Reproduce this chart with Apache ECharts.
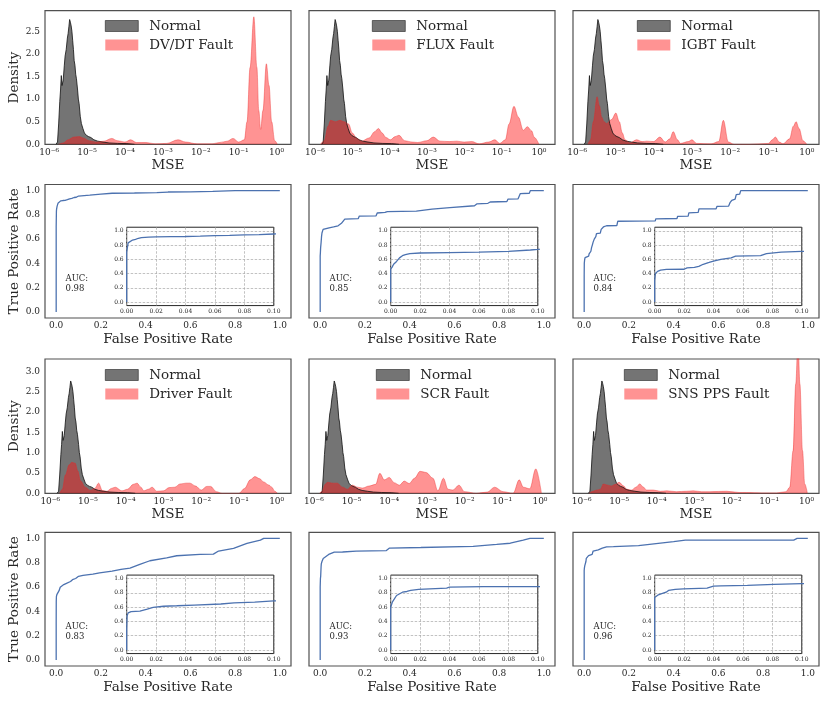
<!DOCTYPE html>
<html>
<head>
<meta charset="utf-8">
<script src="https://cdn.jsdelivr.net/npm/echarts@6/dist/echarts.min.js"></script>
<style>
  html, body { margin: 0; padding: 0; background: #fff; }
  #main { width: 830px; height: 706px; }
</style>
</head>
<body>
<div id="main"></div>
<script>
// ---- data ----
const faultNames = ['DV/DT Fault', 'FLUX Fault', 'IGBT Fault', 'Driver Fault', 'SCR Fault', 'SNS PPS Fault']
const aucValues = [0.98, 0.85, 0.84, 0.83, 0.93, 0.96]

const logMseTicks = [-6, -5, -4, -3, -2, -1, 0]
const densityTicksTop = [0, 0.5, 1, 1.5, 2, 2.5]
const densityTicksBottom = [0, 0.5, 1, 1.5, 2, 2.5, 3]
const rateTicks = [0, 0.2, 0.4, 0.6, 0.8, 1]
const insetFprTicks = [0, 0.02, 0.04, 0.06, 0.08, 0.1]

// [log10(MSE), density]
const normalDensity = [
  [-5.82, 0], [-5.78, 0.05], [-5.75, 0.45], [-5.72, 0.95], [-5.7, 1.2], [-5.68, 1.52], [-5.66, 1.3],
  [-5.63, 1.42], [-5.6, 1.75], [-5.58, 1.95], [-5.55, 2.1], [-5.52, 2.35], [-5.5, 2.45], [-5.48, 2.6],
  [-5.46, 2.76], [-5.44, 2.7], [-5.42, 2.62], [-5.4, 2.5], [-5.38, 2.3], [-5.36, 2.1], [-5.34, 1.85],
  [-5.32, 1.75], [-5.3, 1.55], [-5.28, 1.45], [-5.25, 1.2], [-5.23, 1.0], [-5.21, 0.9], [-5.18, 0.62],
  [-5.15, 0.46], [-5.11, 0.35], [-5.07, 0.25], [-5.02, 0.2], [-4.96, 0.17], [-4.9, 0.15], [-4.82, 0.1],
  [-4.72, 0.07], [-4.58, 0.05], [-4.42, 0.03], [-4.2, 0.02], [-3.95, 0.015], [-3.75, 0]
]
const dvdtDensity = [
  [-5.75, 0], [-5.63, 0.03], [-5.5, 0.1], [-5.35, 0.16], [-5.2, 0.17], [-5.1, 0.14], [-4.95, 0.08],
  [-4.75, 0.05], [-4.55, 0.07], [-4.35, 0.13], [-4.2, 0.08], [-4.0, 0.05], [-3.85, 0.1], [-3.7, 0.04],
  [-3.45, 0.04], [-3.2, 0.01], [-2.9, 0.02], [-2.6, 0.1], [-2.4, 0.05], [-2.1, 0.01], [-1.7, 0.01],
  [-1.5, 0.04], [-1.3, 0.07], [-1.15, 0.13], [-1.0, 0.05], [-0.85, 0.1], [-0.78, 0.5], [-0.7, 1.7],
  [-0.6, 2.82], [-0.52, 1.7], [-0.47, 0.75], [-0.42, 0.33], [-0.36, 0.75], [-0.27, 1.78], [-0.2, 1.3],
  [-0.13, 0.5], [-0.05, 0.08], [0.02, 0]
]
const fluxDensity = [
  [-5.85, 0], [-5.75, 0.08], [-5.65, 0.4], [-5.58, 0.53], [-5.45, 0.5], [-5.33, 0.53], [-5.22, 0.5],
  [-5.1, 0.45], [-5.0, 0.25], [-4.88, 0.13], [-4.75, 0.07], [-4.55, 0.14], [-4.4, 0.28], [-4.3, 0.35],
  [-4.2, 0.25], [-4.1, 0.15], [-3.98, 0.1], [-3.85, 0.17], [-3.75, 0.2], [-3.6, 0.08], [-3.4, 0.05],
  [-3.25, 0.04], [-3.0, 0.08], [-2.83, 0.16], [-2.65, 0.07], [-2.4, 0.06], [-2.2, 0.07], [-2.0, 0.05],
  [-1.8, 0.06], [-1.6, 0.01], [-1.35, 0.05], [-1.18, 0.1], [-1.05, 0.02], [-0.9, 0.1], [-0.8, 0.45],
  [-0.67, 0.84], [-0.55, 0.6], [-0.42, 0.31], [-0.31, 0.39], [-0.2, 0.3], [-0.12, 0.15], [0.0, 0]
]
const igbtDensity = [
  [-5.72, 0], [-5.65, 0.1], [-5.58, 0.5], [-5.48, 1.05], [-5.42, 0.85], [-5.36, 0.6], [-5.3, 0.5],
  [-5.23, 0.46], [-5.1, 0.55], [-4.99, 0.69], [-4.9, 0.5], [-4.82, 0.25], [-4.75, 0.1], [-4.62, 0.03],
  [-4.45, 0.1], [-4.3, 0.06], [-4.18, 0.07], [-4.0, 0.06], [-3.84, 0.16], [-3.7, 0.05], [-3.58, 0.12],
  [-3.49, 0.28], [-3.38, 0.1], [-3.3, 0.02], [-3.1, 0.06], [-3.0, 0.1], [-2.88, 0.02], [-2.5, 0.01],
  [-2.3, 0.06], [-2.18, 0.53], [-2.05, 0.05], [-1.9, 0.0], [-1.5, 0.0], [-1.0, 0.02], [-0.9, 0.1],
  [-0.82, 0.16], [-0.72, 0.05], [-0.62, 0.01], [-0.45, 0.12], [-0.35, 0.4], [-0.28, 0.5], [-0.2, 0.35],
  [-0.1, 0.08], [0.0, 0]
]
const driverDensity = [
  [-5.75, 0], [-5.68, 0.1], [-5.6, 0.45], [-5.5, 0.7], [-5.43, 0.76], [-5.34, 0.74], [-5.27, 0.55],
  [-5.2, 0.31], [-5.07, 0.15], [-4.94, 0.07], [-4.82, 0.12], [-4.72, 0.25], [-4.62, 0.07], [-4.5, 0.05],
  [-4.38, 0.12], [-4.28, 0.15], [-4.1, 0.06], [-3.95, 0.1], [-3.8, 0.22], [-3.7, 0.25], [-3.6, 0.15],
  [-3.52, 0.06], [-3.4, 0.1], [-3.3, 0.15], [-3.18, 0.05], [-3.0, 0.06], [-2.85, 0.14], [-2.7, 0.15],
  [-2.56, 0.23], [-2.4, 0.25], [-2.3, 0.25], [-2.15, 0.18], [-2.0, 0.08], [-1.85, 0.17], [-1.75, 0.17],
  [-1.6, 0.04], [-1.45, 0.0], [-1.0, 0.0], [-0.85, 0.12], [-0.7, 0.33], [-0.58, 0.41], [-0.45, 0.36],
  [-0.35, 0.28], [-0.2, 0.2], [-0.13, 0.15], [-0.05, 0.05], [0.02, 0]
]
const scrDensity = [
  [-5.85, 0], [-5.78, 0.05], [-5.7, 0.22], [-5.64, 0.27], [-5.5, 0.25], [-5.38, 0.25], [-5.24, 0.15],
  [-5.11, 0.1], [-4.98, 0.2], [-4.84, 0.15], [-4.71, 0.13], [-4.53, 0.18], [-4.36, 0.22], [-4.25, 0.49],
  [-4.13, 0.33], [-4.0, 0.39], [-3.87, 0.26], [-3.73, 0.2], [-3.6, 0.3], [-3.47, 0.24], [-3.33, 0.37],
  [-3.18, 0.54], [-3.02, 0.51], [-2.84, 0.37], [-2.71, 0.06], [-2.56, 0.37], [-2.44, 0.1], [-2.31, 0.08],
  [-2.15, 0.2], [-2.0, 0.04], [-1.69, 0.0], [-1.4, 0.03], [-1.2, 0.15], [-0.98, 0.04], [-0.71, 0.0],
  [-0.55, 0.33], [-0.44, 0.15], [-0.27, 0.11], [-0.11, 0.6], [0.04, 0]
]
const snsDensity = [
  [-5.8, 0], [-5.7, 0.05], [-5.6, 0.08], [-5.5, 0.1], [-5.42, 0.23], [-5.3, 0.2], [-5.2, 0.18],
  [-5.1, 0.22], [-5.0, 0.27], [-4.88, 0.18], [-4.8, 0.1], [-4.67, 0.08], [-4.55, 0.15], [-4.45, 0.23],
  [-4.35, 0.15], [-4.27, 0.08], [-4.09, 0.08], [-3.9, 0.05], [-3.73, 0.06], [-3.47, 0.04], [-3.2, 0.05],
  [-3.02, 0.06], [-2.8, 0.04], [-2.58, 0.04], [-2.13, 0.05], [-1.8, 0.02], [-1.6, 0.02], [-1.2, 0.01],
  [-0.8, 0.01], [-0.55, 0.04], [-0.45, 0.15], [-0.36, 1.05], [-0.29, 2.69], [-0.23, 3.8], [-0.18, 2.69],
  [-0.11, 1.05], [-0.05, 0.23], [0.02, 0]
]

// [false positive rate, true positive rate]
const dvdtRoc = [
  [0, 0], [0, 0.7], [0.001, 0.83], [0.002, 0.85], [0.004, 0.87], [0.006, 0.88], [0.008, 0.895],
  [0.01, 0.905], [0.015, 0.91], [0.02, 0.915], [0.03, 0.918], [0.04, 0.92], [0.05, 0.925], [0.06, 0.932],
  [0.07, 0.935], [0.08, 0.943], [0.09, 0.945], [0.1, 0.955], [0.15, 0.962], [0.2, 0.97], [0.25, 0.978],
  [0.35, 0.98], [0.45, 0.983], [0.5, 0.988], [0.6, 0.99], [0.7, 0.993], [0.8, 1.0], [1.0, 1.0]
]
const fluxRoc = [
  [0, 0], [0, 0.3], [0, 0.46], [0.001, 0.49], [0.002, 0.53], [0.004, 0.57], [0.006, 0.62], [0.008, 0.65],
  [0.01, 0.665], [0.013, 0.68], [0.02, 0.688], [0.04, 0.693], [0.06, 0.7], [0.08, 0.71], [0.095, 0.73],
  [0.1, 0.74], [0.11, 0.765], [0.17, 0.768], [0.175, 0.79], [0.25, 0.792], [0.255, 0.815], [0.29, 0.82],
  [0.3, 0.827], [0.43, 0.83], [0.435, 0.843], [0.5, 0.847], [0.505, 0.857], [0.58, 0.86], [0.585, 0.87],
  [0.69, 0.875], [0.7, 0.89], [0.75, 0.895], [0.76, 0.906], [0.835, 0.91], [0.84, 0.93], [0.885, 0.932],
  [0.895, 0.975], [0.935, 0.978], [0.94, 1.0], [1, 1]
]
const igbtRoc = [
  [0, 0], [0, 0.3], [0.0005, 0.4], [0.002, 0.43], [0.004, 0.448], [0.008, 0.457], [0.02, 0.46],
  [0.022, 0.478], [0.027, 0.485], [0.03, 0.5], [0.033, 0.53], [0.037, 0.555], [0.04, 0.575], [0.045, 0.6],
  [0.052, 0.62], [0.055, 0.645], [0.072, 0.65], [0.076, 0.68], [0.086, 0.7], [0.1, 0.71], [0.146, 0.712],
  [0.15, 0.747], [0.318, 0.75], [0.32, 0.767], [0.415, 0.77], [0.418, 0.788], [0.465, 0.79], [0.468, 0.816],
  [0.51, 0.82], [0.513, 0.849], [0.59, 0.85], [0.594, 0.87], [0.646, 0.872], [0.652, 0.9], [0.66, 0.92],
  [0.675, 0.93], [0.68, 0.966], [0.695, 0.97], [0.7, 1.0], [1, 1]
]
const driverRoc = [
  [0, 0], [0, 0.29], [0.0003, 0.48], [0.001, 0.52], [0.003, 0.537], [0.009, 0.546], [0.014, 0.574],
  [0.018, 0.598], [0.025, 0.613], [0.034, 0.62], [0.046, 0.63], [0.064, 0.645], [0.073, 0.66],
  [0.087, 0.67], [0.1, 0.688], [0.12, 0.695], [0.164, 0.706], [0.194, 0.717], [0.25, 0.73], [0.29, 0.745],
  [0.33, 0.755], [0.374, 0.786], [0.419, 0.816], [0.494, 0.84], [0.539, 0.857], [0.643, 0.868],
  [0.703, 0.87], [0.726, 0.896], [0.793, 0.918], [0.853, 0.959], [0.913, 0.986], [0.928, 1.0], [1, 1]
]
const scrRoc = [
  [0, 0], [0, 0.45], [0, 0.6], [0.0011, 0.67], [0.0023, 0.69], [0.004, 0.764], [0.005, 0.79], [0.008, 0.81],
  [0.011, 0.82], [0.0136, 0.835], [0.019, 0.85], [0.038, 0.868], [0.04, 0.88], [0.063, 0.887], [0.1, 0.888],
  [0.161, 0.895], [0.296, 0.9], [0.31, 0.92], [0.45, 0.925], [0.684, 0.935], [0.789, 0.95], [0.85, 0.96],
  [0.908, 0.986], [0.938, 1.0], [1, 1]
]
const snsRoc = [
  [0, 0], [0, 0.5], [0, 0.736], [0.0009, 0.755], [0.0025, 0.774], [0.0048, 0.79], [0.0078, 0.81],
  [0.0094, 0.835], [0.014, 0.849], [0.0196, 0.858], [0.0356, 0.868], [0.04, 0.896], [0.045, 0.9],
  [0.063, 0.906], [0.081, 0.92], [0.1, 0.93], [0.131, 0.932], [0.243, 0.94], [0.251, 0.953], [0.4, 0.973],
  [0.452, 0.986], [0.937, 0.986], [0.952, 1.0], [1, 1]
]

const faultDensities = [dvdtDensity, fluxDensity, igbtDensity, driverDensity, scrDensity, snsDensity]
const rocCurves = [dvdtRoc, fluxRoc, igbtRoc, driverRoc, scrRoc, snsRoc]

// ---- layout ----
const colLeft = [45, 309, 573]
const colWidth = 246
const rowTop = [10.7, 184.5, 359, 532.3]
const rowHeight = [133.6, 133.5, 134.3, 133.7]
const mseAxisMin = [-6.11, -6.16, -6.11, -6.14, -6.13, -6.23]
const mseAxisMax = [0.38, 0.43, 0.32, 0.38, 0.40, 0.33]
const legendLeft = [105, 372, 637, 105, 376, 624]

const serif = '"DejaVu Serif", "Liberation Serif", serif'
const ink = '#262626'
const frame = '#505050'
const rocBlue = '#4c72b0'
const normalFill = 'rgba(30,30,30,0.62)'
const faultFill = 'rgba(255,20,20,0.46)'

const supMap = { '-': '\u207B', '0': '\u2070', '1': '\u00B9', '2': '\u00B2', '3': '\u00B3', '4': '\u2074', '5': '\u2075', '6': '\u2076' }
function sup(n) {
  return String(n).split('').map(c => supMap[c]).join('')
}

const grids = []
const xAxes = []
const yAxes = []
const series = []
const legends = []
const graphics = []

function label(size, margin, fmt, show) {
  return { show: show !== false, fontFamily: serif, fontSize: size, color: ink, margin: margin, formatter: fmt }
}
function axisName(text, gap) {
  return { name: text, nameLocation: 'middle', nameGap: gap, nameTextStyle: { fontFamily: serif, fontSize: 13.5, color: ink } }
}

// density panels
faultNames.forEach((fault, i) => {
  const row = i < 3 ? 0 : 2
  const col = i % 3
  const gi = grids.length
  const yTicks = row === 0 ? densityTicksTop : densityTicksBottom
  grids.push({ left: colLeft[col], top: rowTop[row], width: colWidth, height: rowHeight[row],
    show: true, borderColor: frame, borderWidth: 1.2, backgroundColor: 'transparent' })
  xAxes.push(Object.assign({
    gridIndex: gi, type: 'value', min: mseAxisMin[i], max: mseAxisMax[i],
    axisLine: { show: false }, axisTick: { show: false, customValues: logMseTicks }, splitLine: { show: false },
    axisLabel: Object.assign(label(9, 4, v => '10' + sup(v)), { customValues: logMseTicks })
  }, axisName('MSE', 11)))
  yAxes.push(Object.assign({
    gridIndex: gi, type: 'value', min: 0, max: row === 0 ? 2.955 : 3.3,
    axisLine: { show: false }, axisTick: { show: false, customValues: yTicks }, splitLine: { show: false },
    axisLabel: Object.assign(label(9, 5, v => v.toFixed(1), col === 0), { customValues: yTicks })
  }, axisName(col === 0 ? 'Density' : '', 19.5)))
  series.push({
    type: 'line', name: 'Normal', xAxisIndex: gi, yAxisIndex: gi, data: normalDensity,
    symbol: 'none', silent: true,
    lineStyle: { color: '#111', width: 0.8 },
    itemStyle: { color: '#5a5a5a' },
    areaStyle: { color: normalFill, opacity: 1 }
  })
  series.push({
    type: 'line', name: fault, xAxisIndex: gi, yAxisIndex: gi, data: faultDensities[i],
    symbol: 'none', silent: true, smooth: 0.35, smoothMonotone: 'x',
    lineStyle: { color: 'rgba(235,40,40,0.5)', width: 0.8 },
    itemStyle: { color: '#ff8a8a' },
    areaStyle: { color: faultFill, opacity: 1 }
  })
  legends.push({
    orient: 'vertical', left: legendLeft[i], top: row === 0 ? 19 : 368, padding: 0,
    icon: 'rect', itemWidth: 33, itemHeight: 11, itemGap: 5, selectedMode: false,
    textStyle: { fontFamily: serif, fontSize: 13.5, color: ink, padding: [0, 0, 0, 6] },
    data: [
      { name: 'Normal', itemStyle: { color: normalFill, borderColor: '#222', borderWidth: 0.6 } },
      { name: fault, itemStyle: { color: faultFill, borderWidth: 0 } }
    ]
  })
})

// ROC panels with zoomed insets
rocCurves.forEach((roc, i) => {
  const row = i < 3 ? 1 : 3
  const col = i % 3
  const gi = grids.length
  grids.push({ left: colLeft[col], top: rowTop[row], width: colWidth, height: rowHeight[row],
    show: true, borderColor: frame, borderWidth: 1.2, backgroundColor: 'transparent' })
  xAxes.push(Object.assign({
    gridIndex: gi, type: 'value', min: -0.05, max: 1.05,
    axisLine: { show: false }, axisTick: { show: false, customValues: rateTicks }, splitLine: { show: false },
    axisLabel: Object.assign(label(9, 3.5, v => v.toFixed(1)), { customValues: rateTicks })
  }, axisName('False Positive Rate', 14)))
  yAxes.push(Object.assign({
    gridIndex: gi, type: 'value', min: -0.05, max: 1.05,
    axisLine: { show: false }, axisTick: { show: false, customValues: rateTicks }, splitLine: { show: false },
    axisLabel: Object.assign(label(9, 5, v => v.toFixed(1), col === 0), { customValues: rateTicks })
  }, axisName(col === 0 ? 'True Positive Rate' : '', 19.5)))
  series.push({
    type: 'line', name: 'ROC ' + faultNames[i], xAxisIndex: gi, yAxisIndex: gi, data: roc,
    symbol: 'none', silent: true, lineStyle: { color: rocBlue, width: 1.3 }
  })

  // inset: same curve, FPR 0..0.1
  const ii = grids.length
  grids.push({
    left: colLeft[col] + 0.332 * colWidth, top: rowTop[row] + 0.32 * rowHeight[row],
    width: 0.598 * colWidth, height: 0.587 * rowHeight[row],
    show: true, borderColor: '#262626', borderWidth: 1, backgroundColor: '#fff', z: 2
  })
  const dashed = { show: true, lineStyle: { type: [2.5, 1.5], color: '#a8a8a8', width: 0.7 } }
  xAxes.push({
    gridIndex: ii, type: 'value', min: 0, max: 0.1, z: 3,
    axisLine: { show: false }, axisTick: { show: false, customValues: insetFprTicks }, splitLine: dashed,
    axisLabel: Object.assign(label(6, 3, v => v.toFixed(2)), { customValues: insetFprTicks })
  })
  yAxes.push({
    gridIndex: ii, type: 'value', min: -0.05, max: 1.05, z: 3,
    axisLine: { show: false }, axisTick: { show: false, customValues: rateTicks }, splitLine: dashed,
    axisLabel: Object.assign(label(6, 3, v => v.toFixed(1)), { customValues: rateTicks })
  })
  series.push({
    type: 'line', name: 'ROC inset ' + faultNames[i], xAxisIndex: ii, yAxisIndex: ii, data: roc,
    symbol: 'none', silent: true, clip: true, z: 4, lineStyle: { color: rocBlue, width: 1.3 }
  })

  graphics.push({
    type: 'text', left: colLeft[col] + 20.5, top: rowTop[row] + 90,
    style: { text: 'AUC:\n' + aucValues[i].toFixed(2), fontFamily: serif, fontSize: 8.5, lineHeight: 9.5, fill: ink }
  })
})

const chart = echarts.init(document.getElementById('main'), null, { renderer: 'canvas' })
chart.setOption({
  animation: false,
  backgroundColor: '#fff',
  grid: grids,
  xAxis: xAxes,
  yAxis: yAxes,
  legend: legends,
  graphic: graphics,
  series: series
})
</script>
</body>
</html>
